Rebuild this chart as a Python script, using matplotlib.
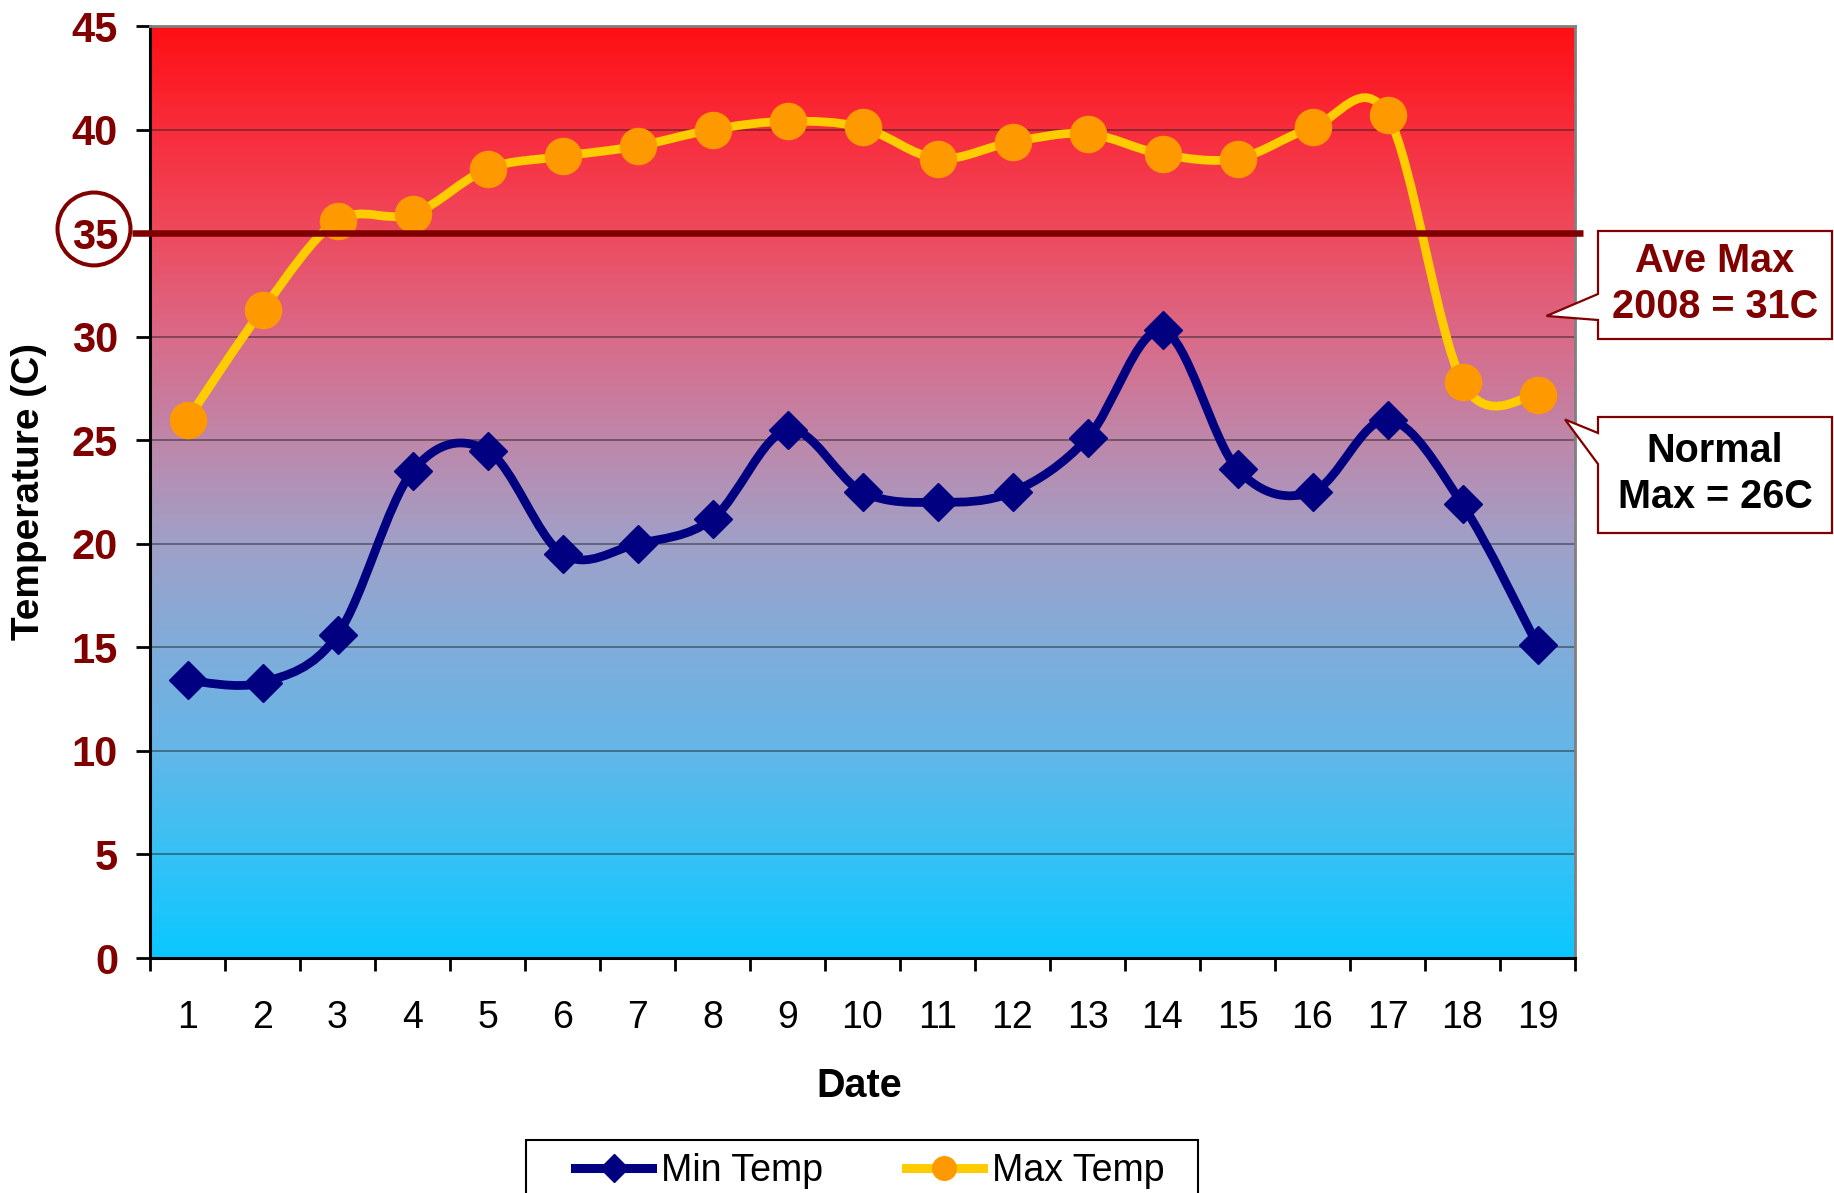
import numpy as np
import matplotlib
matplotlib.use("Agg")
import matplotlib.pyplot as plt
from matplotlib.colors import LinearSegmentedColormap
from matplotlib.lines import Line2D
from matplotlib.patches import Ellipse, PathPatch, Polygon, Rectangle
from matplotlib.path import Path

plt.rcParams['font.family'] = ['Liberation Sans', 'DejaVu Sans']

# values
days = [1, 2, 3, 4, 5, 6, 7, 8, 9, 10, 11, 12, 13, 14, 15, 16, 17, 18, 19]
min_temp = [13.4, 13.3, 15.6, 23.5, 24.5, 19.5, 20.0, 21.2, 25.5, 22.5,
            22.0, 22.5, 25.1, 30.3, 23.6, 22.5, 26.0, 21.9, 15.1]
max_temp = [26.0, 31.3, 35.6, 35.9, 38.1, 38.7, 39.2, 40.0, 40.4, 40.1,
            38.6, 39.4, 39.8, 38.8, 38.6, 40.1, 40.7, 27.8, 27.2]
y_ticks = [0, 5, 10, 15, 20, 25, 30, 35, 40, 45]
hot_day = 35
ave_max_2008 = 31
normal_max = 26

W, H = 1834, 1193
DARK_RED = '#800000'
NAVY = '#000080'
YELLOW = '#FFCC00'
ORANGE = '#FF9900'


def fig_xy(x, y):
    # pixel position measured from top-left -> figure fraction
    return x / W, 1 - y / H


def smooth_path(xs, ys):
    # excel style smoothed line: catmull-rom segments as cubic beziers
    pts = np.column_stack([xs, ys]).astype(float)
    padded = np.vstack([pts[0], pts, pts[-1]])
    verts = [pts[0]]
    codes = [Path.MOVETO]
    for i in range(len(pts) - 1):
        p0, p1, p2, p3 = padded[i], padded[i + 1], padded[i + 2], padded[i + 3]
        verts += [p1 + (p2 - p0) / 6, p2 - (p3 - p1) / 6, p2]
        codes += [Path.CURVE4] * 3
    return Path(verts, codes)


fig = plt.figure(figsize=(W / 100, H / 100), dpi=100)
ax = fig.add_axes([150 / W, 1 - 958 / H, 1425 / W, 932 / H])
ax.set_xlim(0.5, len(days) + 0.5)
ax.set_ylim(0, 45)

# background gradient, cyan at the bottom to red at the top
grad = ['#0AC8FF', '#37C1F5', '#64B6E8', '#80ACDA', '#A0A0C8',
        '#BE87AA', '#D96A89', '#EE4A5E', '#F82D3C', '#FF0F14']
cmap = LinearSegmentedColormap.from_list('heat', grad)
ax.imshow(np.linspace(0, 1, 256).reshape(-1, 1), cmap=cmap, origin='lower',
          aspect='auto', extent=(0.5, len(days) + 0.5, 0, 45), zorder=0)

ax.set_axisbelow(True)
ax.yaxis.grid(True, color='#202020', lw=1.1, alpha=0.6)

ax.add_patch(PathPatch(smooth_path(days, min_temp), fill=False, ec=NAVY, lw=6.3, zorder=2))
ax.plot(days, min_temp, ls='none', marker='D', ms=19.5, color=NAVY, zorder=3)
ax.add_patch(PathPatch(smooth_path(days, max_temp), fill=False, ec=YELLOW, lw=6.3, zorder=2))
ax.plot(days, max_temp, ls='none', marker='o', ms=26, color=ORANGE, zorder=3)

# 35 degree line with the circled label
ax.plot([-0.0126, 1.0056], [hot_day, hot_day], transform=ax.get_yaxis_transform(),
        color=DARK_RED, lw=4.7, clip_on=False, zorder=4, solid_capstyle='butt')
ax.add_patch(Ellipse((-0.0393, hot_day + 0.2), 0.0512, 3.52, transform=ax.get_yaxis_transform(),
                     fill=False, ec=DARK_RED, lw=2.9, clip_on=False))

# axes styling
for side in ['left', 'bottom']:
    ax.spines[side].set_color('black')
    ax.spines[side].set_linewidth(2.2)
for side in ['top', 'right']:
    ax.spines[side].set_color('#808080')
    ax.spines[side].set_linewidth(2)

ax.set_xticks(np.arange(len(days) + 1) + 0.5)
ax.set_xticks(days, labels=[str(d) for d in days], minor=True)
ax.tick_params(axis='x', which='major', length=9.5, width=2, labelbottom=False)
ax.tick_params(axis='x', which='minor', length=0, pad=30, labelsize=27)
ax.set_yticks(y_ticks, labels=[str(v) for v in y_ticks], fontweight='bold')
ax.tick_params(axis='y', length=10, width=2, pad=13, labelsize=30, labelcolor=DARK_RED)

ax.set_xlabel('Date', fontsize=28.5, fontweight='bold', va='center')
ax.xaxis.set_label_coords(0.498, -0.137)
ax.set_ylabel('Temperature (C)', fontsize=28, fontweight='bold', va='center')
ax.yaxis.set_label_coords(-0.0849, 0.501)

# title sits above the visible canvas, as in the source
fig.text(0.5, 1 + 1.5 / H, 'Adelaide March 2008', ha='center', va='baseline',
         fontsize=30, fontweight='bold', color=DARK_RED)

# callouts
to_fig = fig.transFigure.inverted()


def callout(box, base, tip_axes_x, tip_val, text, color):
    left, top, right, bottom = box
    tip = to_fig.transform(ax.get_yaxis_transform().transform((tip_axes_x, tip_val)))
    verts = [fig_xy(left, top), fig_xy(right, top), fig_xy(right, bottom),
             fig_xy(left, bottom), fig_xy(left, base[1]), tip, fig_xy(left, base[0])]
    fig.add_artist(Polygon(verts, closed=True, transform=fig.transFigure,
                           fc='white', ec=DARK_RED, lw=1.6, zorder=5))
    fig.text(*fig_xy((left + right) / 2, (top + bottom) / 2 - 1), text, ha='center', va='center',
             fontsize=28.5, fontweight='bold', color=color, linespacing=1.27, zorder=6)


callout((1598, 231, 1832, 339), (294, 320), 0.98, ave_max_2008, 'Ave Max\n2008 = 31C', DARK_RED)
callout((1598, 417, 1832, 533), (433, 464), 0.993, normal_max, 'Normal\nMax = 26C', 'black')

# legend, its frame runs off the bottom of the canvas
handles = [Line2D([], [], color=NAVY, lw=6.5, marker='D', ms=14),
           Line2D([], [], color=YELLOW, lw=6.5, marker='o', ms=17, mfc=ORANGE, mec=ORANGE)]
fig.legend(handles, ['Min Temp', 'Max Temp'], loc='center', ncol=2,
           bbox_to_anchor=fig_xy(870, 1171), frameon=False, fontsize=27,
           handlelength=2.05, handletextpad=0.25, columnspacing=2.2, borderpad=0)
fig.add_artist(Rectangle(fig_xy(526, 1210), 672 / W, 70 / H, transform=fig.transFigure,
                         fill=False, ec='black', lw=1.5))

fig.savefig('out.png', dpi=100)
